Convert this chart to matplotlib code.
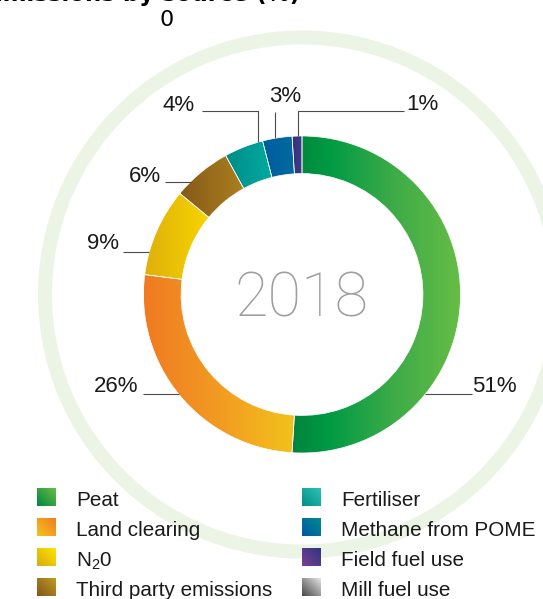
import numpy as np
import matplotlib
matplotlib.use('Agg')
import matplotlib.pyplot as plt
from matplotlib.colors import LinearSegmentedColormap
from matplotlib.patches import Wedge

plt.rcParams['font.family'] = ['Liberation Sans', 'DejaVu Sans']
plt.rcParams['mathtext.fontset'] = 'custom'
plt.rcParams['mathtext.rm'] = 'Liberation Sans'
plt.rcParams['mathtext.default'] = 'regular'

# ---------------------------------------------------------------- data
categories = ['Peat', 'Land clearing', 'N$_2$0', 'Third party emissions',
              'Fertiliser', 'Methane from POME', 'Field fuel use', 'Mill fuel use']
shares = [51, 26, 9, 6, 4, 3, 1, 0]
year_label = '2018'
title = 'Emissions by source (%)'
stray_label = '0'

# gradient stops used on the ring (left -> right)
ring_stops = [
    [(0, '#00843d'), (0.22, '#009a44'), (0.6, '#3dab48'), (1, '#66bd46')],
    [(0, '#f07a22'), (0.5, '#f29b22'), (1, '#f3c21c')],
    [(0, '#dfb00c'), (1, '#f7d500')],
    [(0, '#865919'), (1, '#aa801f')],
    [(0, '#008c89'), (1, '#00aba0')],
    [(0, '#005d9f'), (1, '#006aa0')],
    [(0, '#35327e'), (1, '#3f3a88')],
    [(0, '#555557'), (1, '#cfcfd0')],
]
# gradient stops on the legend swatches (bottom-left -> top-right)
swatch_stops = [
    [(0, '#00873f'), (1, '#6cbe45')],
    [(0, '#f6c11c'), (1, '#f07d22')],
    [(0, '#d9aa0e'), (1, '#ffe600')],
    [(0, '#85561a'), (1, '#c09c24')],
    [(0, '#008f8a'), (1, '#2fc2b5')],
    [(0, '#0057a3'), (1, '#008c8e')],
    [(0, '#7b4093'), (1, '#2b3580')],
    [(0, '#48484a'), (1, '#e8e8e8')],
]

# ---------------------------------------------------------------- layout (pixels)
W, H = 543, 599
CX, CY, R = 302, 294.5, 158.5


def dx(x):
    return (x - CX) / R


def dy(y):
    return (CY - y) / R


def edge_x(y, side):
    return side * np.sqrt(1 - dy(y) ** 2)


def edge_y(x):
    return np.sqrt(1 - dx(x) ** 2)


fig = plt.figure(figsize=(W / 100, H / 100), dpi=100)
ax = fig.add_axes([0, 0, 1, 1])

# faint background ring
ax.add_patch(Wedge((0, 0), 264 / R, 0, 360, width=14 / R,
                   facecolor='#ecf5e5', edgecolor='none', zorder=0))

vals = [v for v in shares if v > 0]
wedges, _ = ax.pie(vals, radius=1, startangle=90, counterclock=False,
                   wedgeprops=dict(width=0.237, edgecolor='white', linewidth=0.5))

for i, w in enumerate(wedges):
    cmap = LinearSegmentedColormap.from_list('g%d' % i, ring_stops[i])
    ext = w.get_path().get_extents()
    grad = np.linspace(0, 1, 256).reshape(1, -1)
    im = ax.imshow(grad, cmap=cmap, extent=(ext.x0, ext.x1, ext.y0, ext.y1),
                   aspect='auto', interpolation='bicubic', zorder=1)
    im.set_clip_path(w)
    w.set_facecolor('none')
    w.set_zorder(2)

ax.set_xlim(dx(0), dx(W))
ax.set_ylim(dy(H), dy(0))
ax.set_aspect('equal')
ax.set_axis_off()

ax.text(0, dy(316.5), year_label, ha='center', va='baseline', fontsize=44,
        color='#9d9da2', family=['Roboto', 'Liberation Sans'], fontweight='light')

# percentage labels with leader lines
labels = [
    dict(xy=(471.6, 392.5), ha='left',
         line=[(471.6, 394), (None, 394, 1)]),
    dict(xy=(138.5, 392.5), ha='right',
         line=[(143, 394), (None, 394, -1)]),
    dict(xy=(119.5, 249.2), ha='right',
         line=[(123, 251.7), (None, 251.7, -1)]),
    dict(xy=(161, 182.5), ha='right',
         line=[(165.5, 181.7), (None, 181.7, -1)]),
    dict(xy=(194.6, 110.8), ha='right',
         line=[(202, 111), (258, 111), (258, None)]),
    dict(xy=(285, 102.5), ha='center',
         line=[(275.3, 111.7), (275.3, None)]),
    dict(xy=(405.8, 110.2), ha='left',
         line=[(404, 111), (298.5, 111), (298.5, None)]),
]
for v, lab in zip(vals, labels):
    xs, ys = [], []
    for p in lab['line']:
        if p[0] is None:
            xs.append(edge_x(p[1], p[2]))
            ys.append(dy(p[1]))
        elif p[1] is None:
            xs.append(dx(p[0]))
            ys.append(edge_y(p[0]))
        else:
            xs.append(dx(p[0]))
            ys.append(dy(p[1]))
    ax.plot(xs, ys, color='#4a4a4a', lw=0.8, zorder=3, solid_capstyle='butt')
    ax.text(dx(lab['xy'][0]), dy(lab['xy'][1]), '%d%%' % v, ha=lab['ha'],
            va='baseline', fontsize=16, color='#1a1a1a')

# title (mostly cropped) and stray label
fig.text(300 / W, 1 - 0.8 / H, title, ha='right', va='baseline', fontsize=16.5,
         fontweight='bold', family='DejaVu Sans')
fig.text(166.5 / W, 1 - 26.5 / H, stray_label, ha='center', va='baseline',
         fontsize=16, family='DejaVu Sans')

# legend
col_x = [37, 302]
text_x = [76, 341]
row_bottom = [506.5, 536.5, 566.3, 596]
sw = 18.5
yy, xx = np.mgrid[0:1:40j, 0:1:40j]
diag = (xx + yy) / 2
for i, name in enumerate(categories):
    c, r = divmod(i, 4)
    sax = fig.add_axes([col_x[c] / W, (H - row_bottom[r]) / H, sw / W, sw / H])
    cmap = LinearSegmentedColormap.from_list('s%d' % i, swatch_stops[i])
    sax.imshow(diag, cmap=cmap, origin='lower', aspect='auto', interpolation='bicubic')
    sax.set_axis_off()
    fig.text(text_x[c] / W, (H - row_bottom[r]) / H, name, ha='left',
             va='baseline', fontsize=14.9, color='#1a1a1a')

fig.savefig('out.png', dpi=100)
